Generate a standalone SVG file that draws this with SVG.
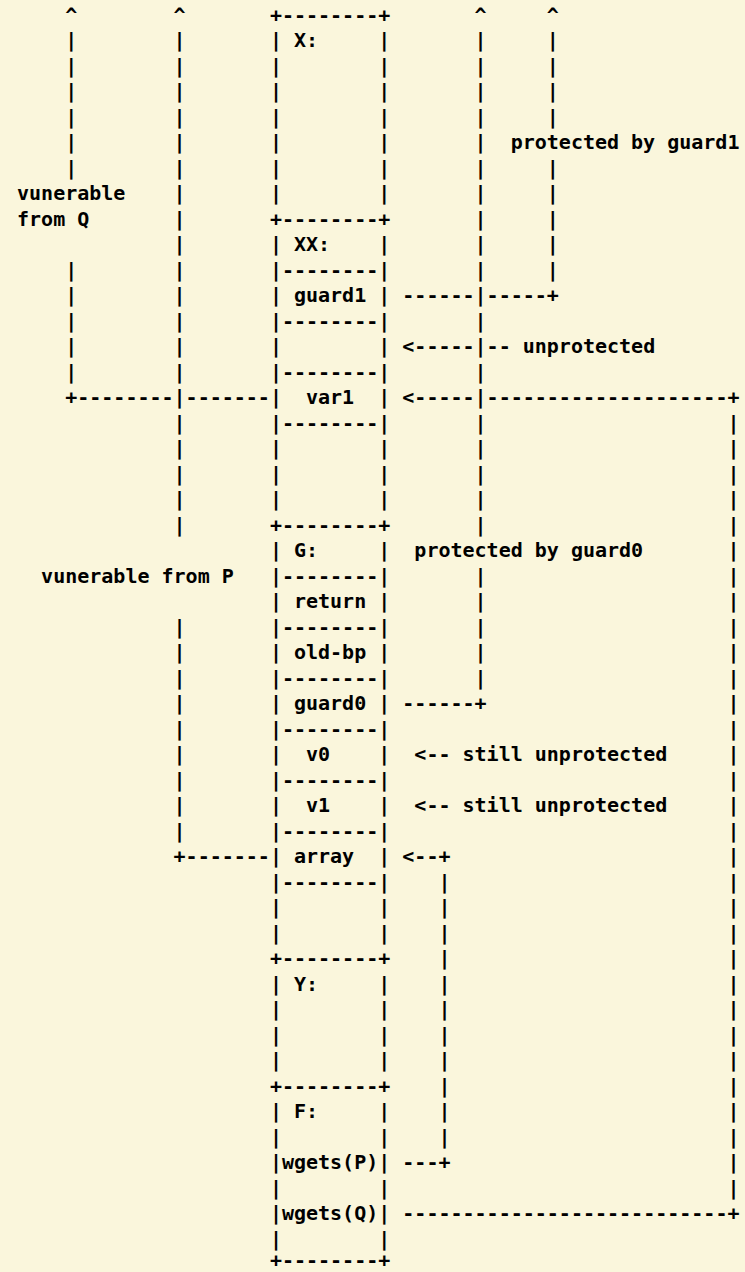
<svg xmlns="http://www.w3.org/2000/svg" width="745" height="1272" viewBox="0 0 745 1272">
<style>
text{font-family:"DejaVu Sans Mono","Liberation Mono",monospace;font-size:20px;font-weight:bold;fill:#000;white-space:pre}
</style>
<rect width="745" height="1272" fill="#faf6dc"/>
<g id="connectors" xml:space="preserve">
<g id="left-lines">
<text x="65.2" y="21.5">^        ^</text>
<text x="65.2" y="47">|        |</text>
<text x="65.2" y="72.5">|        |</text>
<text x="65.2" y="98">|        |</text>
<text x="65.2" y="123.5">|        |</text>
<text x="65.2" y="149">|        |</text>
<text x="65.2" y="174.5">|        |</text>
<text x="173.56" y="200">|</text>
<text x="173.56" y="225.5">|</text>
<text x="173.56" y="251">|</text>
<text x="65.2" y="276.5">|        |</text>
<text x="65.2" y="302">|        |</text>
<text x="65.2" y="327.5">|        |</text>
<text x="65.2" y="353">|        |</text>
<text x="65.2" y="378.5">|        |</text>
<text x="65.2" y="404">+--------|-------</text>
<text x="173.56" y="429.5">|</text>
<text x="173.56" y="455">|</text>
<text x="173.56" y="480.5">|</text>
<text x="173.56" y="506">|</text>
<text x="173.56" y="531.5">|</text>
<text x="173.56" y="633.5">|</text>
<text x="173.56" y="659">|</text>
<text x="173.56" y="684.5">|</text>
<text x="173.56" y="710">|</text>
<text x="173.56" y="735.5">|</text>
<text x="173.56" y="761">|</text>
<text x="173.56" y="786.5">|</text>
<text x="173.56" y="812">|</text>
<text x="173.56" y="837.5">|</text>
<text x="173.56" y="863">+-------</text>
</g>
<g id="right-lines">
<text x="474.56" y="21.5">^     ^</text>
<text x="474.56" y="47">|     |</text>
<text x="474.56" y="72.5">|     |</text>
<text x="474.56" y="98">|     |</text>
<text x="474.56" y="123.5">|     |</text>
<text x="474.56" y="149">|</text>
<text x="474.56" y="174.5">|     |</text>
<text x="474.56" y="200">|     |</text>
<text x="474.56" y="225.5">|     |</text>
<text x="474.56" y="251">|     |</text>
<text x="474.56" y="276.5">|     |</text>
<text x="402.32" y="302">------|-----+</text>
<text x="474.56" y="327.5">|</text>
<text x="402.32" y="353">&lt;-----|--</text>
<text x="474.56" y="378.5">|</text>
<text x="402.32" y="404">&lt;-----|--------------------+</text>
<text x="474.56" y="429.5">|                    |</text>
<text x="474.56" y="455">|                    |</text>
<text x="474.56" y="480.5">|                    |</text>
<text x="474.56" y="506">|                    |</text>
<text x="474.56" y="531.5">|                    |</text>
<text x="727.4" y="557">|</text>
<text x="474.56" y="582.5">|                    |</text>
<text x="474.56" y="608">|                    |</text>
<text x="474.56" y="633.5">|                    |</text>
<text x="474.56" y="659">|                    |</text>
<text x="474.56" y="684.5">|                    |</text>
<text x="402.32" y="710">------+                    |</text>
<text x="727.4" y="735.5">|</text>
<text x="414.36" y="761">&lt;--</text>
<text x="727.4" y="761">|</text>
<text x="727.4" y="786.5">|</text>
<text x="414.36" y="812">&lt;--</text>
<text x="727.4" y="812">|</text>
<text x="727.4" y="837.5">|</text>
<text x="402.32" y="863">&lt;--+                       |</text>
<text x="438.44" y="888.5">|                       |</text>
<text x="438.44" y="914">|                       |</text>
<text x="438.44" y="939.5">|                       |</text>
<text x="438.44" y="965">|                       |</text>
<text x="438.44" y="990.5">|                       |</text>
<text x="438.44" y="1016">|                       |</text>
<text x="438.44" y="1041.5">|                       |</text>
<text x="438.44" y="1067">|                       |</text>
<text x="438.44" y="1092.5">|                       |</text>
<text x="438.44" y="1118">|                       |</text>
<text x="438.44" y="1143.5">|                       |</text>
<text x="402.32" y="1169">---+                       |</text>
<text x="727.4" y="1194.5">|</text>
<text x="402.32" y="1220">---------------------------+</text>
</g>
</g>
<g id="labels">
<text x="510.68" y="149">protected by guard1</text>
<text x="17.04" y="200">vunerable</text>
<text x="17.04" y="225.5">from Q</text>
<text x="522.72" y="353">unprotected</text>
<text x="414.36" y="557">protected by guard0</text>
<text x="41.12" y="582.5">vunerable from P</text>
<text x="462.52" y="761">still unprotected</text>
<text x="462.52" y="812">still unprotected</text>
</g>
<g id="frame-X" xml:space="preserve">
<text x="269.88" y="21.5">+--------+</text>
<text x="269.88" y="47">| X:     |</text>
<text x="269.88" y="72.5">|        |</text>
<text x="269.88" y="98">|        |</text>
<text x="269.88" y="123.5">|        |</text>
<text x="269.88" y="149">|        |</text>
<text x="269.88" y="174.5">|        |</text>
<text x="269.88" y="200">|        |</text>
</g>
<g id="frame-XX" xml:space="preserve">
<text x="269.88" y="225.5">+--------+</text>
<text x="269.88" y="251">| XX:    |</text>
<text x="269.88" y="276.5">|--------|</text>
<text x="269.88" y="302">| guard1 |</text>
<text x="269.88" y="327.5">|--------|</text>
<text x="269.88" y="353">|        |</text>
<text x="269.88" y="378.5">|--------|</text>
<text x="269.88" y="404">|  var1  |</text>
<text x="269.88" y="429.5">|--------|</text>
<text x="269.88" y="455">|        |</text>
<text x="269.88" y="480.5">|        |</text>
<text x="269.88" y="506">|        |</text>
</g>
<g id="frame-G" xml:space="preserve">
<text x="269.88" y="531.5">+--------+</text>
<text x="269.88" y="557">| G:     |</text>
<text x="269.88" y="582.5">|--------|</text>
<text x="269.88" y="608">| return |</text>
<text x="269.88" y="633.5">|--------|</text>
<text x="269.88" y="659">| old-bp |</text>
<text x="269.88" y="684.5">|--------|</text>
<text x="269.88" y="710">| guard0 |</text>
<text x="269.88" y="735.5">|--------|</text>
<text x="269.88" y="761">|  v0    |</text>
<text x="269.88" y="786.5">|--------|</text>
<text x="269.88" y="812">|  v1    |</text>
<text x="269.88" y="837.5">|--------|</text>
<text x="269.88" y="863">| array  |</text>
<text x="269.88" y="888.5">|--------|</text>
<text x="269.88" y="914">|        |</text>
<text x="269.88" y="939.5">|        |</text>
</g>
<g id="frame-Y" xml:space="preserve">
<text x="269.88" y="965">+--------+</text>
<text x="269.88" y="990.5">| Y:     |</text>
<text x="269.88" y="1016">|        |</text>
<text x="269.88" y="1041.5">|        |</text>
<text x="269.88" y="1067">|        |</text>
</g>
<g id="frame-F" xml:space="preserve">
<text x="269.88" y="1092.5">+--------+</text>
<text x="269.88" y="1118">| F:     |</text>
<text x="269.88" y="1143.5">|        |</text>
<text x="269.88" y="1169">|wgets(P)|</text>
<text x="269.88" y="1194.5">|        |</text>
<text x="269.88" y="1220">|wgets(Q)|</text>
<text x="269.88" y="1245.5">|        |</text>
<text x="269.88" y="1267">+--------+</text>
</g>
</svg>
